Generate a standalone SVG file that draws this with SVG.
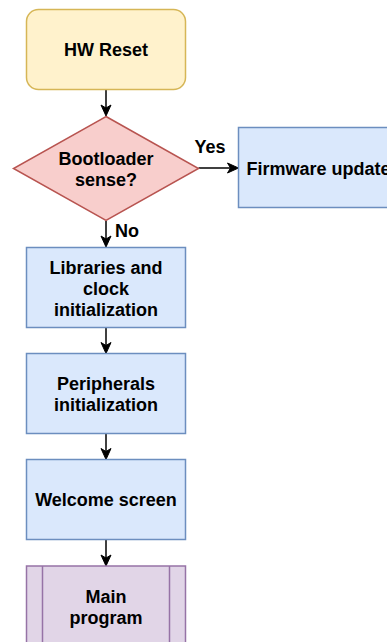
<svg xmlns="http://www.w3.org/2000/svg" width="387" height="642" viewBox="0 0 387 642">
<style>
text{font-family:"Liberation Sans",Arial,Helvetica,sans-serif;font-weight:bold;font-size:18px;fill:#000;text-anchor:middle}
.blue{fill:#dae8fc;stroke:#6c8ebf;stroke-width:1.5}
.yellow{fill:#fff2cc;stroke:#d6b656;stroke-width:1.5}
.red{fill:#f8cecc;stroke:#b85450;stroke-width:1.5}
.purple{fill:#e1d5e7;stroke:#9673a6;stroke-width:1.5}
.edge{fill:none;stroke:#000;stroke-width:1.5}
</style>
<defs>
<marker id="arr" viewBox="-9 -6 13 12" refX="0" refY="0" markerWidth="13" markerHeight="12" markerUnits="userSpaceOnUse" orient="auto">
<path d="M3,0 L-8,-5 L-5,0 L-8,5 Z" fill="#000" stroke="#000" stroke-width="1"/>
</marker>
</defs>
<rect width="387" height="642" fill="#fff"/>
<g id="connectors">
<line class="edge" x1="106" y1="89.5" x2="106" y2="113" marker-end="url(#arr)"/>
<line class="edge" x1="198.5" y1="168" x2="235.5" y2="168" marker-end="url(#arr)"/>
<line class="edge" x1="106" y1="221" x2="106" y2="244" marker-end="url(#arr)"/>
<line class="edge" x1="106" y1="327.5" x2="106" y2="350.5" marker-end="url(#arr)"/>
<line class="edge" x1="106" y1="433.5" x2="106" y2="456.5" marker-end="url(#arr)"/>
<line class="edge" x1="106" y1="539.5" x2="106" y2="563" marker-end="url(#arr)"/>
<text x="210" y="153">Yes</text>
<text x="127" y="237">No</text>
</g>
<g id="hw-reset">
<rect class="yellow" x="26.5" y="9.5" width="159" height="80" rx="12" ry="12"/>
<text x="106" y="56">HW Reset</text>
</g>
<g id="bootloader-sense">
<polygon class="red" points="106,116.5 198.5,168.5 106,220.5 13.5,168.5"/>
<text x="106" y="165">Bootloader</text>
<text x="106" y="185.5">sense?</text>
</g>
<g id="firmware-update">
<rect class="blue" x="238.5" y="127.5" width="160" height="80"/>
<text x="318.5" y="175">Firmware update</text>
</g>
<g id="libraries">
<rect class="blue" x="26.5" y="247.5" width="159" height="80"/>
<text x="106" y="273.5">Libraries and</text>
<text x="106" y="294.5">clock</text>
<text x="106" y="315.5">initialization</text>
</g>
<g id="peripherals">
<rect class="blue" x="26.5" y="353.5" width="159" height="80"/>
<text x="106" y="390">Peripherals</text>
<text x="106" y="411">initialization</text>
</g>
<g id="welcome">
<rect class="blue" x="26.5" y="459.5" width="159" height="80"/>
<text x="106" y="506">Welcome screen</text>
</g>
<g id="main-program">
<rect class="purple" x="26.5" y="566" width="159" height="80"/>
<line class="purple" x1="42.5" y1="566" x2="42.5" y2="646"/>
<line class="purple" x1="169.5" y1="566" x2="169.5" y2="646"/>
<text x="106" y="603">Main</text>
<text x="106" y="623.5">program</text>
</g>
</svg>
